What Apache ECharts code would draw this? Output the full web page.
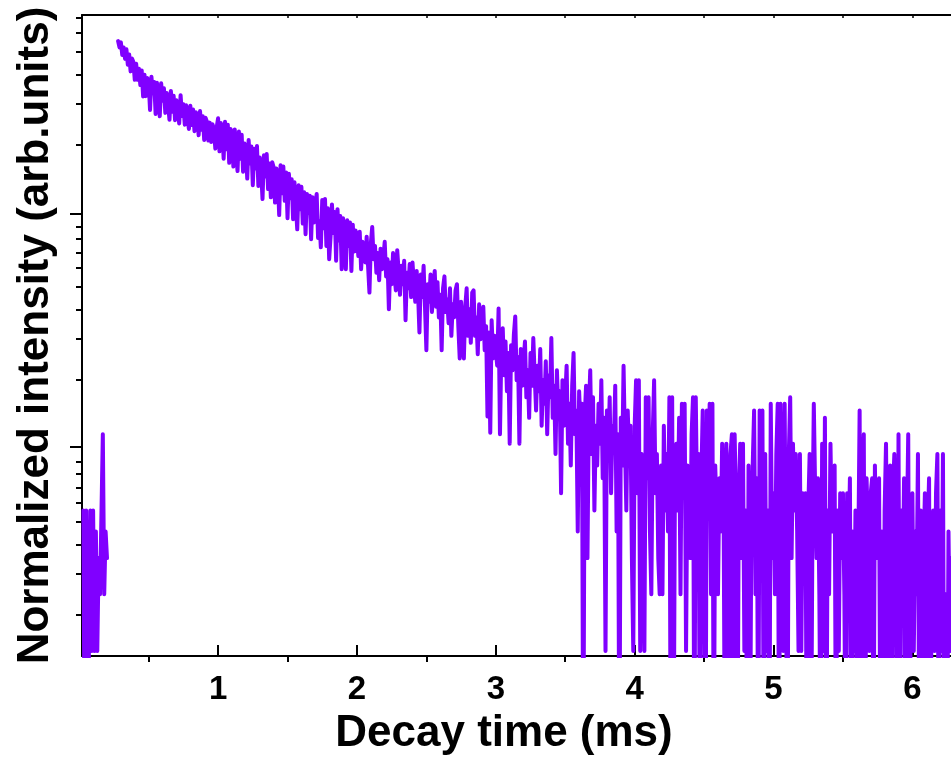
<!DOCTYPE html>
<html><head><meta charset="utf-8">
<script src="https://cdn.jsdelivr.net/npm/echarts@6/dist/echarts.min.js"></script>
<style>html,body{margin:0;padding:0;background:#fff}#c{width:951px;height:761px}</style>
</head><body><div id="c"></div>
<script>
// Tick positions / labels
const xTickLabels = [1, 2, 3, 4, 5, 6];
const xMinorTicks = [0.5, 1.5, 2.5, 3.5, 4.5, 5.5];
const xTopTicks = [0.5, 1, 1.5, 2, 2.5, 3, 3.5, 4, 4.5, 5, 5.5, 6];
const yMajorTicks = [10, 100];
const yMinorTicks = [2, 3, 4, 5, 6, 7, 8, 9, 20, 30, 40, 50, 60, 70, 80, 90, 200, 300, 400, 500, 600, 700];

// Sampling of the decay curve (ms)
const preStart = 0.03, decayStart = 0.28, step = 0.01;

// Signal before the excitation pulse (x = 0.03 .. 0.20)
const prePulse = [5.33, 0.33, 5.33, 0.33, 1.33, 5.33, 1.33, 5.33, 1.33, 4.33, 1.33, 3.33, 2.33, 2.33, 11.33, 2.33, 4.33, 3.33];

// Decay, x = 0.28 .. 0.99
const decay1 = [553, 520, 546, 482, 519, 464, 510, 438, 484, 410, 466, 450, 377, 442, 377, 421, 358, 414, 320, 397, 321, 384,
  369, 280, 389, 330, 369, 269, 366, 317, 263, 365, 307, 347, 272, 331, 295, 254, 338, 275, 322, 253,
  308, 279, 245, 324, 264, 296, 242, 293, 256, 232, 292, 241, 281, 227, 274, 261, 218, 277, 230, 263,
  208, 259, 249, 207, 247, 204, 243, 232, 191, 236];
// x = 1.00 .. 1.99
const decay2 = [258, 186, 246, 227, 173, 249, 190, 242, 166, 232,
  217, 160, 231, 182, 153, 226, 173, 219, 152, 201,
  193, 142, 208, 165, 195, 133, 191, 157, 196, 132,
  175, 153, 116, 179, 145, 181, 128, 165, 118, 167,
  159, 112, 157, 144, 99, 162, 123, 160, 114, 151,
  96, 149, 117, 141, 95, 137, 109, 86, 133, 105,
  131, 91, 124, 82, 122, 101, 120, 78, 118, 92,
  110, 122, 79, 93, 72, 115, 87, 116, 73, 106,
  64, 80, 110, 83, 102, 63, 105, 77, 98, 58,
  96, 80, 58, 94, 73, 92, 57, 90, 69, 85];
// x = 2.00 .. 2.99
const decay3 = [80, 66, 84, 58, 76, 71, 62, 80, 60, 46,
  75, 88, 64, 73, 56, 68, 52, 71, 58, 65,
  76, 54, 64, 39, 62, 50, 68, 55, 47, 70,
  57, 45, 60, 50, 63, 35, 56, 48, 61, 44,
  62, 50, 42, 57, 46, 31, 55, 44, 60, 40,
  26, 50, 42, 55, 38, 48, 57, 40, 51, 36,
  45, 26, 48, 54, 38, 43, 34, 48, 30, 41,
  36, 47, 50, 33, 24, 42, 31, 24, 40, 48,
  30, 39, 28, 46, 47, 30, 36, 25, 41, 29,
  35, 40, 26, 33, 13.5, 31, 11.5, 35, 24, 30];
// x = 3.00 .. 3.99
const decay4 = [30.33, 22.33, 39.33, 11.33, 26.33, 32.33, 20.33, 28.33, 17.33, 25.33,
  10.33, 27.33, 21.33, 30.33, 36.33, 19.33, 24.33, 10.33, 26.33, 18.33,
  23.33, 28.33, 16.33, 21.33, 13.33, 25.33, 18.33, 29.33, 20.33, 14.33,
  22.33, 17.33, 26.33, 12.33, 19.33, 15.33, 23.33, 11.33, 20.33, 16.33,
  29.33, 13.33, 18.33, 9.33, 21.33, 14.33, 17.33, 6.33, 19.33, 12.33,
  16.33, 22.33, 10.33, 15.33, 8.33, 18.33, 25.33, 11.33, 14.33, 4.33,
  17.33, 12.33, 15.33, 0.33, 13.33, 18.33, 3.33, 14.33, 21.33, 9.33,
  16.33, 5.33, 12.33, 8.33, 15.33, 10.33, 19.33, 7.33, 13.33, 1.33,
  14.33, 9.33, 16.33, 6.33, 12.33, 10.33, 18.33, 4.33, 11.33, 0.33,
  13.33, 8.33, 22.33, 10.33, 5.33, 14.33, 9.33, 12.33, 3.33, 1.33];
// x = 4.00 .. 4.99
const decay5 = [12.33, 19.33, 6.33, 19.33, 1.33, 9.33, 5.33, 1.33, 16.33, 7.33,
  16.33, 4.33, 2.33, 11.33, 19.33, 6.33, 9.33, 3.33, 2.33, 8.33,
  2.33, 12.33, 5.33, 9.33, 4.33, 16.33, 0.33, 16.33, 0.33, 7.33,
  10.33, 5.33, 13.33, 2.33, 15.33, 6.33, 15.33, 1.33, 8.33, 4.33,
  3.33, 11.33, 16.33, 0.33, 16.33, 5.33, 9.33, 0.33, 7.33, 14.33,
  3.33, 0.33, 14.33, 6.33, 15.33, 2.33, 15.33, 0.33, 8.33, 5.33,
  2.33, 7.33, 4.33, 10.33, 6.33, 0.33, 10.33, 3.33, 0.33, 9.33,
  11.33, 0.33, 11.33, 5.33, 0.33, 6.33, 10.33, 3.33, 10.33, 1.33,
  5.33, 0.33, 8.33, 0.33, 4.33, 8.33, 14.33, 2.33, 7.33, 0.33,
  14.33, 6.33, 14.33, 0.33, 9.33, 1.33, 5.33, 0.33, 15.33, 3.33];
// x = 5.00 .. 5.99
const decay6 = [6.33, 2.33, 9.33, 15.33, 0.33, 15.33, 4.33, 1.33, 15.33, 2.33,
  0.33, 9.33, 16.33, 3.33, 10.33, 5.33, 9.33, 4.33, 1.33, 9.33,
  1.33, 6.33, 3.33, 6.33, 0.33, 5.33, 9.33, 0.33, 4.33, 15.33,
  6.33, 3.33, 7.33, 2.33, 0.33, 10.33, 1.33, 13.33, 0.33, 5.33,
  2.33, 10.33, 4.33, 6.33, 8.33, 0.33, 5.33, 1.33, 6.33, 3.33,
  6.33, 2.33, 0.33, 6.33, 3.33, 7.33, 0.33, 4.33, 1.33, 5.33,
  0.33, 3.33, 14.33, 0.33, 5.33, 11.33, 0.33, 7.33, 4.33, 1.33,
  6.33, 7.33, 0.33, 8.33, 3.33, 5.33, 7.33, 0.33, 4.33, 0.33,
  5.33, 10.33, 2.33, 0.33, 8.33, 0.33, 6.33, 9.33, 3.33, 0.33,
  11.33, 0.33, 5.33, 2.33, 7.33, 0.33, 4.33, 11.33, 0.33, 3.33];
// x = 6.00 .. 6.28
const decay7 = [6.33, 1.33, 4.33, 2.33, 9.33, 0.33, 5.33, 0.33, 3.33, 6.33,
  0.33, 4.33, 7.33, 0.33, 3.33, 5.33, 1.33, 6.33, 9.33, 0.33,
  5.33, 1.33, 9.33, 0.33, 2.33, 0.33, 4.33, 1.33, 3.33];

const data = [];
prePulse.forEach((v, i) => data.push([+(preStart + i * step).toFixed(2), v]));
data.push([0.24, '-']);
[].concat(decay1, decay2, decay3, decay4, decay5, decay6, decay7)
  .forEach((v, i) => data.push([+(decayStart + i * step).toFixed(2), v]));

const XMIN = 0.02, XMAX = 6.278, YMIN = 1.265, YMAX = 716;
const black = '#000';
const font = 'Liberation Sans';

const chart = echarts.init(document.getElementById('c'), null, { renderer: 'canvas' });
chart.setOption({
  animation: false,
  backgroundColor: '#fff',
  grid: [
    { left: 82, top: 15, right: -4, bottom: 99 },
    { left: 82, top: 15, right: -4, bottom: 99 }
  ],
  xAxis: [
    {
      gridIndex: 0, type: 'value', position: 'bottom', min: XMIN, max: XMAX,
      axisLine: { show: true, onZero: false, lineStyle: { color: black, width: 2 } },
      axisTick: { show: true, inside: true, length: 11, customValues: xTickLabels, lineStyle: { color: black, width: 2 } },
      axisLabel: { show: true, customValues: xTickLabels, margin: 17, color: black, fontFamily: font, fontWeight: 'bold', fontSize: 33 },
      splitLine: { show: false },
      name: 'Decay time (ms)', nameLocation: 'middle', nameGap: 56,
      nameTextStyle: { color: black, fontFamily: font, fontWeight: 'bold', fontSize: 44, padding: [0, 25, 0, 0] }
    },
    {
      gridIndex: 0, type: 'value', position: 'top', min: XMIN, max: XMAX,
      axisLine: { show: true, onZero: false, lineStyle: { color: black, width: 2 } },
      axisTick: { show: true, inside: true, length: 3, customValues: xTopTicks, lineStyle: { color: black, width: 1.5 } },
      axisLabel: { show: false }, splitLine: { show: false }
    },
    {
      gridIndex: 1, type: 'value', position: 'bottom', min: XMIN, max: XMAX,
      axisLine: { show: false, onZero: false },
      axisTick: { show: true, inside: true, length: 6, customValues: xMinorTicks, lineStyle: { color: black, width: 2 } },
      axisLabel: { show: false }, splitLine: { show: false }
    }
  ],
  yAxis: [
    {
      gridIndex: 0, type: 'log', position: 'left', min: YMIN, max: YMAX,
      axisLine: { show: true, onZero: false, lineStyle: { color: black, width: 2 } },
      axisTick: { show: true, inside: false, length: 12, customValues: yMajorTicks, lineStyle: { color: black, width: 2 } },
      axisLabel: { show: false }, splitLine: { show: false },
      name: 'Normalized intensity (arb.units)', nameLocation: 'middle', nameGap: 24, nameRotate: 90,
      nameTextStyle: { color: black, fontFamily: font, fontWeight: 'bold', fontSize: 44 }
    },
    {
      gridIndex: 1, type: 'log', position: 'left', min: YMIN, max: YMAX,
      axisLine: { show: false, onZero: false },
      axisTick: { show: true, inside: false, length: 6, customValues: yMinorTicks, lineStyle: { color: black, width: 2 } },
      axisLabel: { show: false }, splitLine: { show: false }
    }
  ],
  series: [{
    type: 'line', xAxisIndex: 0, yAxisIndex: 0, data: data,
    showSymbol: false, symbol: 'none', connectNulls: false, clip: true,
    lineStyle: { color: '#8000ff', width: 4, join: 'round', cap: 'round' }
  }]
});
</script>
</body></html>
